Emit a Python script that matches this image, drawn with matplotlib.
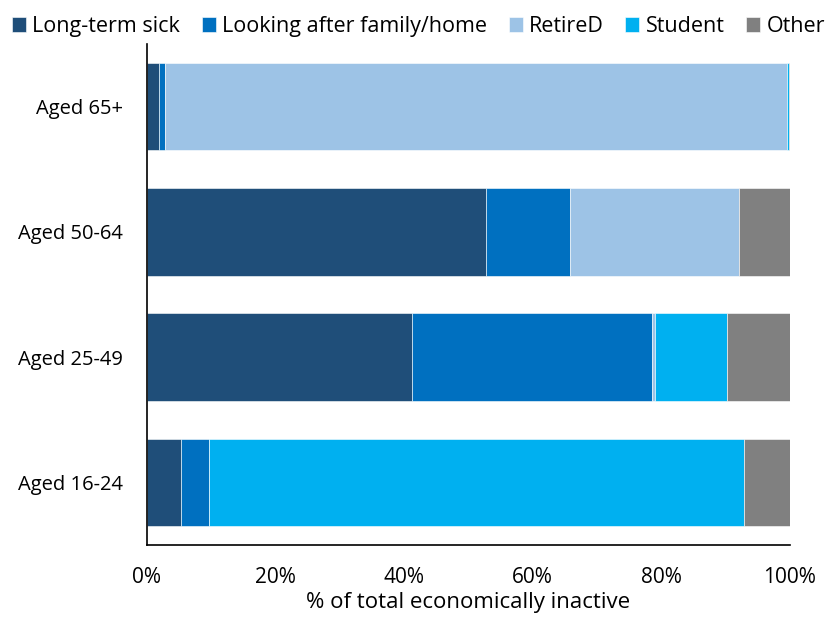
import matplotlib
matplotlib.use("Agg")
import matplotlib.pyplot as plt
import numpy as np

categories = ["Aged 16-24", "Aged 25-49", "Aged 50-64", "Aged 65+"]
series_names = ["Long-term sick", "Looking after family/home", "RetireD", "Student", "Other"]
long_term_sick = [5.3, 41.2, 52.7, 1.9]
looking_after = [4.4, 37.3, 13.1, 0.9]
retired = [0.0, 0.6, 26.3, 96.7]
student = [83.2, 11.1, 0.0, 0.3]
other = [7.1, 9.8, 7.9, 0.2]
colors = ["#1F4E79", "#0070C0", "#9DC3E6", "#00B0F0", "#808080"]
xticks = [0, 20, 40, 60, 80, 100]

plt.rcParams['font.family'] = ['Open Sans', 'DejaVu Sans']

fig = plt.figure(figsize=(8.37, 6.17), dpi=100)
ax = fig.add_axes([0.1756, 0.1167, 0.768, 0.812])

y = np.arange(len(categories))
left = np.zeros(len(categories))
for name, vals, c in zip(series_names, [long_term_sick, looking_after, retired, student, other], colors):
    ax.barh(y, vals, left=left, height=0.7, color=c, label=name, edgecolor="white", linewidth=0.4)
    left += np.array(vals)

ax.set_xlim(0, 100)
ax.set_ylim(-0.5, 3.5)
ax.set_yticks(y)
ax.set_yticklabels(categories, fontsize=14.5)
ax.set_xticks(xticks)
ax.set_xticklabels([f"{t}%" for t in xticks], fontsize=15)
ax.tick_params(axis="y", length=0, pad=17)
ax.tick_params(axis="x", length=0, pad=16)
ax.set_xlabel("% of total economically inactive", fontsize=16, labelpad=3)
for s in ["top", "right"]:
    ax.spines[s].set_visible(False)
ax.spines["left"].set_color("black")
ax.spines["bottom"].set_color("black")
ax.spines["left"].set_linewidth(1.2)
ax.spines["bottom"].set_linewidth(1.2)

fig.legend(loc="upper center", bbox_to_anchor=(0.5, 0.995), ncol=5, frameon=False,
           fontsize=15.5, handlelength=0.65, handleheight=0.65, handletextpad=0.3,
           columnspacing=1.0, borderaxespad=0.2)

fig.savefig("out.png", dpi=100)
